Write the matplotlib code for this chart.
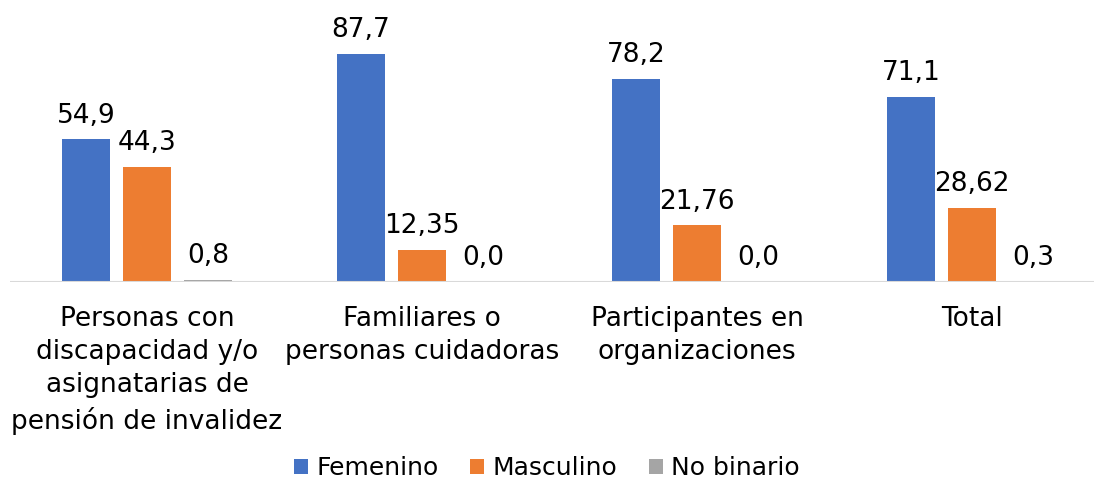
import numpy as np
import matplotlib
matplotlib.use("Agg")
import matplotlib.pyplot as plt

# categorias y valores (%)
categorias = [
    "Personas con\ndiscapacidad y/o\nasignatarias de\npensión de invalidez",
    "Familiares o\npersonas cuidadoras",
    "Participantes en\norganizaciones",
    "Total",
]
femenino   = [54.9, 87.7, 78.2, 71.1]
masculino  = [44.3, 12.35, 21.76, 28.62]
no_binario = [0.8, 0.0, 0.0, 0.3]

series = ["Femenino", "Masculino", "No binario"]
colores = ["#4472C4", "#ED7D31", "#A5A5A5"]

plt.rcParams["font.family"] = ["DejaVu Sans"]

fig = plt.figure(figsize=(10.94, 4.82), dpi=100)
# area del grafico en pixeles -> fracciones de figura
ax = fig.add_axes([9.5 / 1094, 200 / 482, 1100 / 1094, 260 / 482])

x = np.arange(len(categorias))
ancho = 0.175
paso = 0.222

for i, (nombre, vals, col) in enumerate(zip(series, [femenino, masculino, no_binario], colores)):
    pos = x + (i - 1) * paso
    ax.bar(pos, vals, width=ancho, color=col, label=nombre, zorder=2)
    for xp, v in zip(pos, vals):
        ax.annotate(f"{v}".replace(".", ","), (xp, v), xytext=(0, 12),
                    textcoords="offset points", ha="center", va="baseline",
                    fontsize=19, color="black")

ax.set_xlim(-0.5, 3.5)
ax.set_ylim(0, 100)
ax.axhline(0, color="#D9D9D9", linewidth=1.5, zorder=3)
for s in ax.spines.values():
    s.set_visible(False)
ax.set_yticks([])
ax.set_xticks(x)
ax.set_xticklabels(categorias, fontsize=19, linespacing=1.37)
ax.tick_params(axis="x", length=0, pad=17)

fig.legend(loc="center", bbox_to_anchor=(547 / 1094, 1 - 468 / 482), ncol=3,
           frameon=False, fontsize=18, handlelength=0.56, handleheight=0.56,
           handletextpad=0.32, columnspacing=1.28, borderpad=0.2)

fig.savefig("out.png", dpi=100)
